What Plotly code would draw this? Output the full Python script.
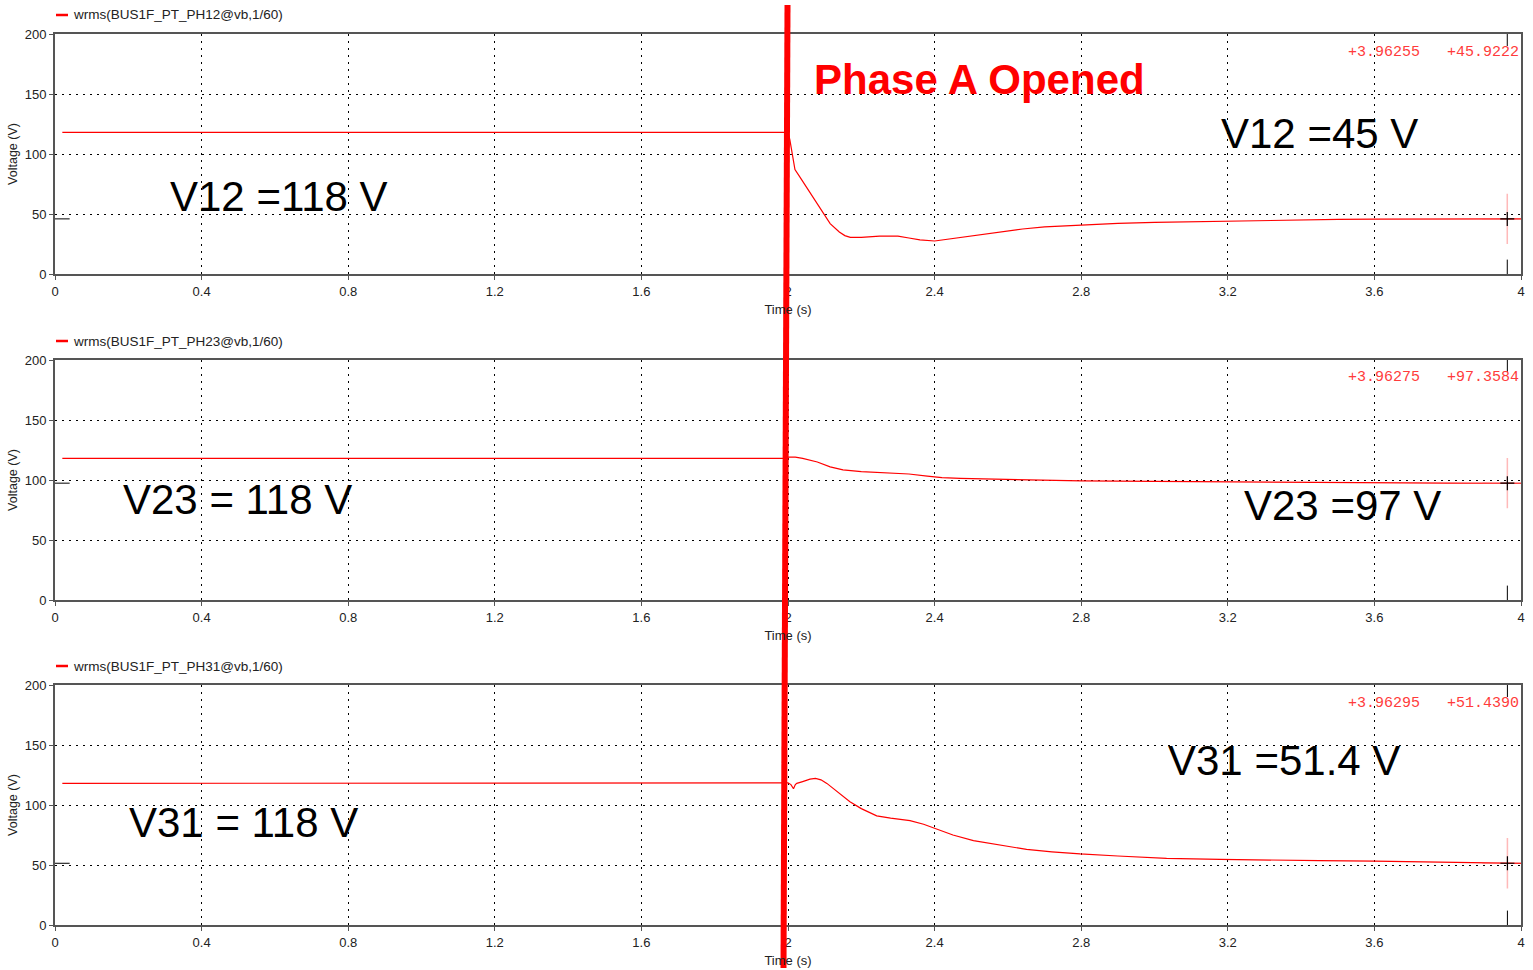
import plotly.graph_objects as go

W, H = 1533, 970

# ---- data ----
t12 = [0.02, 1.99, 2.0, 2.005, 2.012, 2.019, 2.03, 2.06, 2.09, 2.115, 2.14, 2.155, 2.17, 2.2, 2.25, 2.3,
       2.33, 2.36, 2.4, 2.42, 2.48, 2.56, 2.64, 2.7, 2.8, 2.9, 3.0, 3.1, 3.2, 3.3, 3.4, 3.5, 3.6, 3.7,
       3.8, 3.9, 4.0]
v12 = [118, 118, 118, 112, 100, 87, 82, 68, 54, 42, 35, 32, 30.5, 30.5, 31.5, 31.5,
       30, 28.5, 27.5, 28.3, 31, 34.5, 37.5, 39.2, 41, 42.2, 43, 43.6, 44.2, 44.7, 45.1, 45.5, 45.8, 45.9,
       45.9, 45.9, 45.9]

t23 = [0.02, 1.99, 2.0, 2.02, 2.04, 2.08, 2.115, 2.15, 2.2, 2.28, 2.33, 2.38, 2.42, 2.47, 2.58, 2.7,
       2.8, 3.0, 3.2, 3.4, 3.6, 3.8, 4.0]
v23 = [118, 118, 119, 119, 118, 115, 111, 108.5, 107, 106, 105, 103.3, 102, 101.4, 100.5, 99.6,
       99.2, 98.8, 98.3, 97.9, 97.6, 97.4, 97.3]

t31 = [0.02, 1.99, 2.0, 2.008, 2.015, 2.02, 2.024, 2.04, 2.06, 2.075, 2.09, 2.106, 2.13, 2.169, 2.2,
       2.242, 2.28, 2.333, 2.37, 2.406, 2.45, 2.506, 2.58, 2.651, 2.72, 2.797, 2.9, 3.033, 3.179, 3.3,
       3.45, 3.6, 3.75, 3.85, 4.0]
v31 = [118, 118, 118.5, 117, 113.5, 117, 118, 119.5, 121.5, 122.2, 121, 118, 112, 102.8, 97,
       91, 89, 87, 84, 80, 75, 70.3, 66.5, 63, 61, 59.2, 57.5, 55.6, 54.7, 54,
       53.6, 53.2, 52.5, 51.8, 51.4]

legend_names = ["wrms(BUS1F_PT_PH12@vb,1/60)", "wrms(BUS1F_PT_PH23@vb,1/60)", "wrms(BUS1F_PT_PH31@vb,1/60)"]
cursor_t = [3.96255, 3.96275, 3.96295]
cursor_v = [45.9222, 97.3584, 51.4390]
left_labels = ["V12 =118 V", "V23 = 118 V", "V31 = 118 V"]
right_labels = ["V12 =45 V", "V23 =97 V", "V31 =51.4 V"]
x_ticks = [0, 0.4, 0.8, 1.2, 1.6, 2, 2.4, 2.8, 3.2, 3.6, 4]
y_ticks = [0, 50, 100, 150, 200]

series = [(t12, v12), (t23, v23), (t31, v31)]

# ---- layout geometry (pixels) ----
x_left, x_right = 55, 1521
panels_px = [(34, 274), (360, 600), (685, 925)]

def py(p):
    return 1 - p / H

fig = go.Figure()
FONT = "Liberation Sans, Arial, sans-serif"

for i, ((t, v), (top, bot)) in enumerate(zip(series, panels_px)):
    n = "" if i == 0 else str(i + 1)
    xa, ya = "x" + n, "y" + n
    fig.add_trace(go.Scatter(x=t, y=v, mode="lines", line=dict(color="#ff0000", width=1.2),
                             xaxis=xa, yaxis=ya, showlegend=False, hoverinfo="skip"))
    # cursor pink cross
    fig.add_trace(go.Scatter(x=[cursor_t[i]], y=[cursor_v[i]], mode="markers",
                             marker=dict(symbol="cross-thin", size=36,
                                         line=dict(color="rgba(255,80,80,0.4)", width=1.5)),
                             xaxis=xa, yaxis=ya, showlegend=False, hoverinfo="skip"))
    fig.add_trace(go.Scatter(x=[cursor_t[i]], y=[cursor_v[i]], mode="markers",
                             marker=dict(symbol="cross-thin", size=10,
                                         line=dict(color="black", width=1.2)),
                             xaxis=xa, yaxis=ya, showlegend=False, hoverinfo="skip"))
    dom_y = [py(bot), py(top)]
    axcommon = dict(showline=True, mirror=True, linecolor="#555555", linewidth=2,
                    showgrid=True, gridcolor="#000000", griddash="2px,5px", gridwidth=1.2,
                    zeroline=False, ticks="outside", ticklen=4, tickcolor="#555555",
                    automargin=False,
                    tickfont=dict(family=FONT, size=13, color="#222222"))
    fig.update_layout(**{
        ("xaxis" + n): dict(domain=[x_left / W, x_right / W], range=[0, 4], tickvals=x_ticks,
                            anchor=ya, title=dict(text="Time (s)", font=dict(family=FONT, size=13, color="#222"),
                                                  standoff=7),
                            **axcommon),
        ("yaxis" + n): dict(domain=dom_y, range=[0, 200], tickvals=y_ticks, anchor=xa,
                            title=dict(text="Voltage (V)", font=dict(family=FONT, size=12.5, color="#222"),
                                       standoff=4),
                            **axcommon),
    })
    # legend
    fig.add_shape(type="line", xref="paper", yref="paper", x0=56 / W, x1=68 / W,
                  y0=py(top - 19), y1=py(top - 19), line=dict(color="#ff0000", width=2.5))
    fig.add_annotation(xref="paper", yref="paper", x=71 / W, y=py(top - 19), xanchor="left",
                       yanchor="middle", text=legend_names[i], showarrow=False,
                       font=dict(family=FONT, size=13.5, color="#222"))
    # cursor readout
    fig.add_annotation(xref="paper", yref="paper", x=1521 / W, y=py(top + 18), xanchor="right",
                       yanchor="middle",
                       text=f"+{cursor_t[i]:.5f}   +{cursor_v[i]:.4f}",
                       showarrow=False, font=dict(family="Liberation Mono, monospace", size=15, color="#ff3b3b"))
    # cursor ticks at top/bottom, left value tick
    fig.add_shape(type="line", xref=xa, yref=ya + " domain", x0=cursor_t[i], x1=cursor_t[i], y0=0, y1=0.06,
                  line=dict(color="black", width=1))
    fig.add_shape(type="line", xref=xa, yref=ya + " domain", x0=cursor_t[i], x1=cursor_t[i], y0=0.95, y1=1,
                  line=dict(color="black", width=1))
    fig.add_shape(type="line", xref=xa + " domain", yref=ya, x0=0, x1=0.01, y0=cursor_v[i], y1=cursor_v[i],
                  line=dict(color="black", width=1))

# big text labels
left_pos = [(279, 197), (237, 500), (243, 822)]
right_pos = [(1319, 134), (1342, 505), (1284, 760)]
for txt, (x, y) in zip(left_labels, left_pos):
    fig.add_annotation(xref="paper", yref="paper", x=x / W, y=py(y), text=txt, showarrow=False,
                       xanchor="center", yanchor="middle", font=dict(family=FONT, size=42, color="black"))
for txt, (x, y) in zip(right_labels, right_pos):
    fig.add_annotation(xref="paper", yref="paper", x=x / W, y=py(y), text=txt, showarrow=False,
                       xanchor="center", yanchor="middle", font=dict(family=FONT, size=42, color="black"))

fig.add_annotation(xref="paper", yref="paper", x=979 / W, y=py(79), text="<b>Phase A Opened</b>",
                   showarrow=False, xanchor="center", yanchor="middle",
                   font=dict(family=FONT, size=42, color="#ff0000"))

# thick red event line
fig.add_shape(type="line", xref="paper", yref="paper", x0=787.5 / W, y0=py(5), x1=783.5 / W, y1=py(968),
              line=dict(color="#ff0000", width=6), layer="above")

fig.update_layout(width=W, height=H, margin=dict(l=0, r=0, t=0, b=0),
                  paper_bgcolor="white", plot_bgcolor="white", showlegend=False)

fig.write_html("out.html", config={"displayModeBar": False},
               post_script="document.body.style.margin='0px';document.body.style.overflow='hidden';")
